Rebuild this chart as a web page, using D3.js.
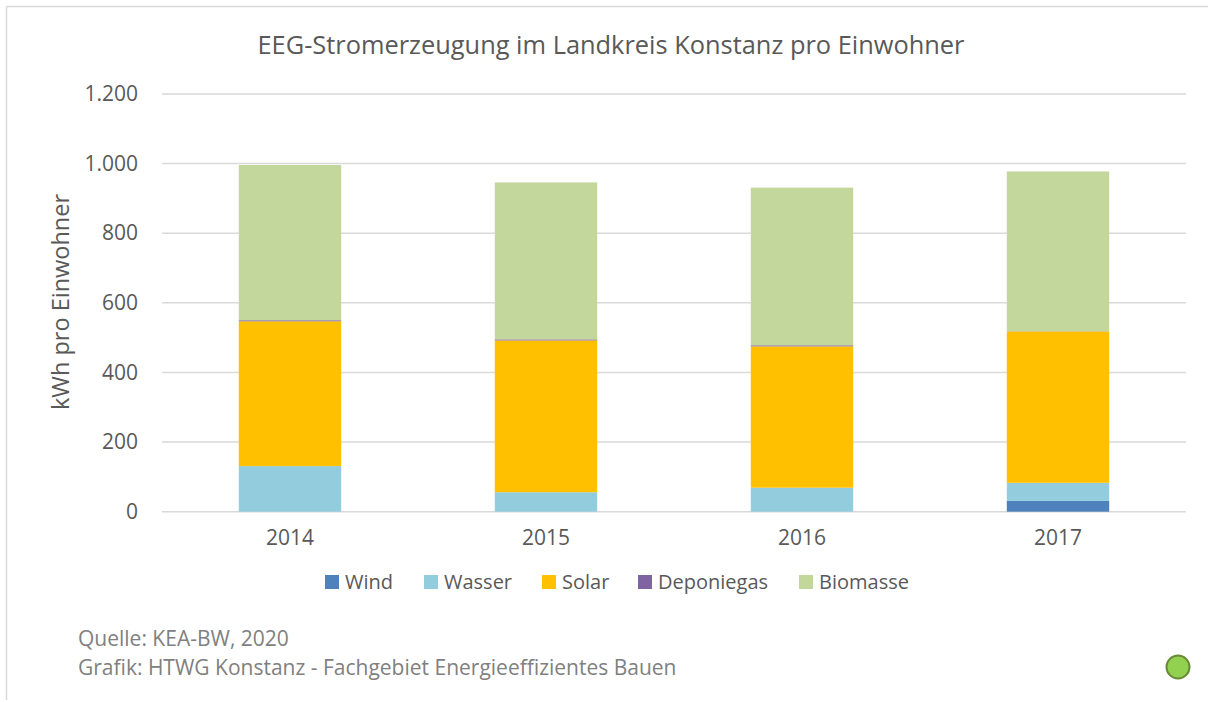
<!DOCTYPE html>
<html>
<head>
<meta charset="utf-8">
<script src="https://cdn.jsdelivr.net/npm/d3@7"></script>
<style>
  body { margin: 0; background: #fff; }
  svg { font-family: "Open Sans", sans-serif; }
</style>
</head>
<body>
<svg id="drawing_region"></svg>
<script>
const years = [ '2014', '2015', '2016', '2017' ];
const series = [ 'Wind', 'Wasser', 'Solar', 'Deponiegas', 'Biomasse' ];
const wind = [ 0, 0, 0, 31 ];
const wasser = [ 131, 56, 69, 52 ];
const solar = [ 416, 436, 406, 435 ];
const deponiegas = [ 3, 3, 3, 0.5 ];
const biomasse = [ 446, 451, 453, 459 ];
const yTicks = [ 0, 200, 400, 600, 800, 1000, 1200 ];
const colors = [ '#4f81bd', '#93cddd', '#ffc000', '#8064a2', '#c3d69b' ];

const table = years.map( ( y, i ) => ({
    year: y,
    Wind: wind[i],
    Wasser: wasser[i],
    Solar: solar[i],
    Deponiegas: deponiegas[i],
    Biomasse: biomasse[i]
}) );

const width = 1208, height = 702;
const margin = { top: 94, right: 22, bottom: 190.3, left: 162 };

const svg = d3.select( '#drawing_region' )
    .attr( 'width', width )
    .attr( 'height', height );

// chart frame (only top and left edges visible in the picture)
svg.append( 'line' )
    .attr( 'x1', 6.5 ).attr( 'x2', width ).attr( 'y1', 6.5 ).attr( 'y2', 6.5 )
    .attr( 'stroke', '#d9d9d9' ).attr( 'stroke-width', 1.5 );
svg.append( 'line' )
    .attr( 'x1', 6.5 ).attr( 'x2', 6.5 ).attr( 'y1', 6.5 ).attr( 'y2', 700 )
    .attr( 'stroke', '#d9d9d9' ).attr( 'stroke-width', 1.5 );

const x = d3.scaleBand()
    .domain( years )
    .range( [ margin.left, width - margin.right ] )
    .paddingInner( 0.6 )
    .paddingOuter( 0.3 );

const y = d3.scaleLinear()
    .domain( [ 0, 1200 ] )
    .range( [ height - margin.bottom, margin.top ] );

const fmt = d3.formatLocale( { decimal: ',', thousands: '.', grouping: [3], currency: [ '', '€' ] } ).format( ',' );

// gridlines
svg.append( 'g' )
    .selectAll( 'line' )
    .data( yTicks )
    .join( 'line' )
    .attr( 'x1', margin.left )
    .attr( 'x2', width - margin.right )
    .attr( 'y1', d => y( d ) )
    .attr( 'y2', d => y( d ) )
    .attr( 'stroke', '#d9d9d9' )
    .attr( 'stroke-width', 1.5 );

// y axis labels
const yAxis = d3.axisLeft( y ).tickValues( yTicks ).tickFormat( fmt ).tickSize( 0 ).tickPadding( 24 );
svg.append( 'g' )
    .attr( 'transform', `translate(${margin.left},0)` )
    .call( yAxis )
    .call( g => g.select( '.domain' ).remove() )
    .selectAll( 'text' )
    .attr( 'fill', '#595959' )
    .style( 'font-size', '21px' )
    .style( 'font-family', '"Open Sans", sans-serif' );

// stacked bars
const stack = d3.stack().keys( series );
const layers = stack( table );

svg.append( 'g' )
    .selectAll( 'g' )
    .data( layers )
    .join( 'g' )
    .attr( 'fill', ( d, i ) => colors[i] )
    .selectAll( 'rect' )
    .data( d => d )
    .join( 'rect' )
    .attr( 'x', d => x( d.data.year ) )
    .attr( 'width', x.bandwidth() )
    .attr( 'y', d => y( d[1] ) )
    .attr( 'height', d => y( d[0] ) - y( d[1] ) );

// x axis labels
const xAxis = d3.axisBottom( x ).tickSize( 0 ).tickPadding( 18 );
svg.append( 'g' )
    .attr( 'transform', `translate(0,${height - margin.bottom})` )
    .call( xAxis )
    .call( g => g.select( '.domain' ).remove() )
    .selectAll( 'text' )
    .attr( 'fill', '#595959' )
    .style( 'font-size', '21px' )
    .style( 'font-family', '"Open Sans", sans-serif' );

// title
svg.append( 'text' )
    .attr( 'x', 611 )
    .attr( 'y', 54 )
    .attr( 'text-anchor', 'middle' )
    .attr( 'fill', '#595959' )
    .style( 'font-size', '25.4px' )
    .text( 'EEG-Stromerzeugung im Landkreis Konstanz pro Einwohner' );

// y axis title
svg.append( 'text' )
    .attr( 'transform', 'translate(69,302) rotate(-90)' )
    .attr( 'text-anchor', 'middle' )
    .attr( 'fill', '#595959' )
    .style( 'font-size', '23.5px' )
    .text( 'kWh pro Einwohner' );

// legend
const legendX = [ 325, 424, 542, 638, 799 ];
const legend = svg.append( 'g' )
    .selectAll( 'g' )
    .data( series )
    .join( 'g' )
    .attr( 'transform', ( d, i ) => `translate(${legendX[i]},575)` );
legend.append( 'rect' )
    .attr( 'width', 14 )
    .attr( 'height', 14 )
    .attr( 'fill', ( d, i ) => colors[i] );
legend.append( 'text' )
    .attr( 'x', 20 )
    .attr( 'y', 14 )
    .attr( 'fill', '#595959' )
    .style( 'font-size', '20px' )
    .text( d => d );

// footer
svg.append( 'text' )
    .attr( 'x', 78 )
    .attr( 'y', 646 )
    .attr( 'fill', '#808080' )
    .style( 'font-size', '21px' )
    .text( 'Quelle: KEA-BW, 2020' );
svg.append( 'text' )
    .attr( 'x', 78 )
    .attr( 'y', 675 )
    .attr( 'fill', '#808080' )
    .style( 'font-size', '21px' )
    .text( 'Grafik: HTWG Konstanz - Fachgebiet Energieeffizientes Bauen' );

svg.append( 'circle' )
    .attr( 'cx', 1178 )
    .attr( 'cy', 667 )
    .attr( 'r', 11.5 )
    .attr( 'fill', '#92d050' )
    .attr( 'stroke', '#6a8a36' )
    .attr( 'stroke-width', 2 );
</script>
</body>
</html>
